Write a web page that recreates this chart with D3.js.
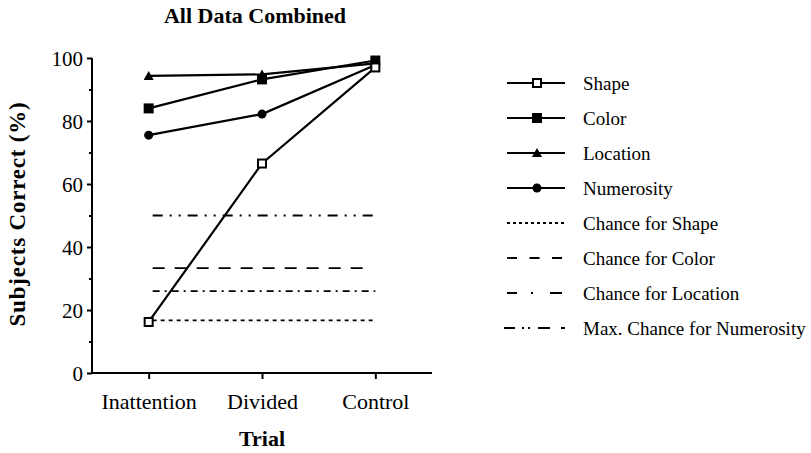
<!DOCTYPE html>
<html><head><meta charset="utf-8">
<script src="https://cdn.jsdelivr.net/npm/d3@7"></script>
<style>body{margin:0;background:#fff}svg{display:block}svg text{font-family:'Liberation Serif','DejaVu Serif',serif !important;fill:#000}</style>
</head><body><svg id="c" width="811" height="453"></svg>
<script>
const categories = ["Inattention", "Divided", "Control"];
const shapeVals = [16.2, 66.5, 97];
const colorVals = [84, 93.2, 99.2];
const locationVals = [94.3, 94.8, 98.3];
const numerosityVals = [75.5, 82.2, 97.8];
const chanceNames = ["Chance for Shape", "Chance for Color", "Chance for Location", "Max. Chance for Numerosity"];
const chanceVals = [16.7, 33.3, 26, 50];
const yTicks = [0, 20, 40, 60, 80, 100];
const yMinor = [10, 30, 50, 70, 90];

const FF = "'Liberation Serif','DejaVu Serif',serif";
const svg = d3.select("#c");
const x = d3.scalePoint().domain(categories).range([92, 432]).padding(0.5);
const y = d3.scaleLinear().domain([0, 100]).range([373, 58]);

// title
svg.append("text").attr("x", 255).attr("y", 23).attr("text-anchor", "middle").attr("font-family", FF)
  .style("font-size", "22px").style("font-weight", "bold").text("All Data Combined");
// y label
svg.append("text").attr("transform", "translate(25,214) rotate(-90)").attr("text-anchor", "middle").attr("font-family", FF)
  .style("font-size", "23px").style("font-weight", "bold").style("letter-spacing", "0.8px").text("Subjects Correct (%)");
// x label
svg.append("text").attr("x", 262).attr("y", 446).attr("text-anchor", "middle").attr("font-family", FF)
  .style("font-size", "22px").style("font-weight", "bold").text("Trial");

// y axis
const ya = svg.append("g").attr("transform", "translate(92,0)")
  .call(d3.axisLeft(y).tickValues(yTicks).tickSize(5).tickPadding(4).tickFormat(d3.format("d")));
ya.attr("font-family", FF);
ya.select(".domain").attr("d", `M0,${y(100)}V${y(0)}`).attr("stroke-width", 2);
ya.selectAll(".tick line").attr("stroke-width", 2);
ya.selectAll(".tick text").style("font-size", "21px").attr("dy", "0.35em");
svg.append("g").attr("transform", "translate(92,0)")
  .call(d3.axisLeft(y).tickValues(yMinor).tickSize(3).tickFormat(""))
  .call(g => g.select(".domain").remove())
  .selectAll(".tick line").attr("stroke-width", 2);

// x axis
const xa = svg.append("g").attr("transform", `translate(0,${y(0)})`)
  .call(d3.axisBottom(x).tickSize(6).tickPadding(14));
xa.attr("font-family", FF);
xa.select(".domain").attr("d", `M91,0H432`).attr("stroke-width", 2);
xa.selectAll(".tick line").attr("stroke-width", 2);
xa.selectAll(".tick text").style("font-size", "22px");

// chance lines
const dashes = ["4 4", "12 10", "7 5 2 5", "10 7 2 7 2 7"];
chanceVals.forEach((v, i) => {
  svg.append("line").attr("x1", x(categories[0]) + 4).attr("x2", x(categories[2]) - (i === 1 ? 12 : 0))
    .attr("y1", y(v)).attr("y2", y(v)).attr("stroke", "#000").attr("stroke-width", 1.8)
    .attr("stroke-dasharray", dashes[i]);
});

// series
const series = [
  {name: "Shape", vals: shapeVals, sym: "sq", fill: "#fff"},
  {name: "Color", vals: colorVals, sym: "sq", fill: "#000"},
  {name: "Location", vals: locationVals, sym: "tri", fill: "#000"},
  {name: "Numerosity", vals: numerosityVals, sym: "circ", fill: "#000"}
];
const line = d3.line().x((d, i) => x(categories[i])).y(d => y(d));
function marker(g, s, cx, cy) {
  if (s.sym === "sq") {
    g.append("rect").attr("x", cx - 4).attr("y", cy - 4).attr("width", 8).attr("height", 8)
      .attr("fill", s.fill).attr("stroke", "#000").attr("stroke-width", 2);
  } else if (s.sym === "tri") {
    g.append("path").attr("d", `M${cx},${cy - 5}L${cx + 5},${cy + 4}L${cx - 5},${cy + 4}Z`).attr("fill", "#000");
  } else {
    g.append("circle").attr("cx", cx).attr("cy", cy).attr("r", 4.5).attr("fill", "#000");
  }
}
[2, 3, 1, 0].forEach(k => {
  const s = series[k];
  svg.append("path").datum(s.vals).attr("d", line).attr("fill", "none").attr("stroke", "#000").attr("stroke-width", 2.2);
  const g = svg.append("g");
  s.vals.forEach((v, i) => marker(g, s, x(categories[i]), y(v)));
});

// legend
const lx1 = 507, lx2 = 565, lmid = 537, ltx = 583, ly0 = 83, lstep = 35;
series.forEach((s, i) => {
  const yy = ly0 + i * lstep;
  svg.append("line").attr("x1", lx1).attr("x2", lx2).attr("y1", yy).attr("y2", yy).attr("stroke", "#000").attr("stroke-width", 2);
  marker(svg, s, lmid, yy);
  svg.append("text").attr("x", ltx).attr("y", yy).attr("dy", "0.35em").attr("font-family", FF).style("font-size", "19px").text(s.name);
});
const legDash = ["3 3", "10 12.5", "10 14 2 17 12", "11 7 2 4 2 8 12"];
const legStart = [507, 507, 507, 504];
chanceNames.forEach((n, i) => {
  const yy = ly0 + (i + 4) * lstep;
  svg.append("line").attr("x1", legStart[i]).attr("x2", lx2).attr("y1", yy).attr("y2", yy).attr("stroke", "#000").attr("stroke-width", 1.8)
    .attr("stroke-dasharray", legDash[i]);
  svg.append("text").attr("x", ltx).attr("y", yy).attr("dy", "0.35em").attr("font-family", FF).style("font-size", "19px").text(n);
});
</script></body></html>
